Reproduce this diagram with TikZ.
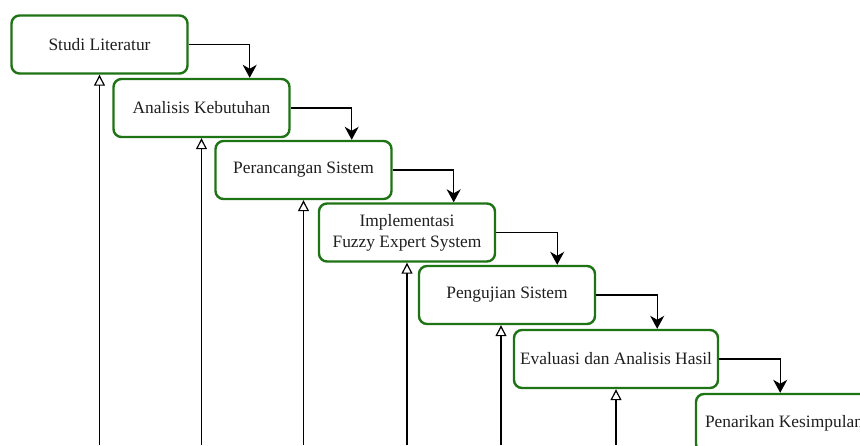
\documentclass[tikz,border=0pt]{standalone}
\usepackage{fontspec}
\setmainfont{Liberation Serif}
\usetikzlibrary{arrows.meta}
\definecolor{boxgreen}{RGB}{30,115,20}

\begin{document}
\begin{tikzpicture}[
  x=1pt, y=-1pt,
  box/.style={draw=boxgreen, line width=2.4pt, rounded corners=8pt, fill=white, align=center, minimum width=176pt, minimum height=58pt, inner sep=4pt, text=black!88, font=\fontsize{17.4}{21}\selectfont},
  ar/.style={-{Stealth[length=13pt, width=14pt, inset=4pt]}, line width=1.2pt},
  fb/.style={-{Triangle[open, length=11pt, width=11pt]}, line width=1.2pt}
]
\useasboundingbox (0,0) rectangle (860,445);
\clip (0,0) rectangle (860,445);
\node[box] (s1) at (99.5,44.5) {Studi Literatur};
\node[box] (s2) at (201.5,108) {Analisis Kebutuhan};
\node[box] (s3) at (303.5,170) {Perancangan Sistem};
\node[box] (s4) at (407,232.5) {Implementasi\\Fuzzy Expert System};
\node[box] (s5) at (507,295) {Pengujian Sistem};
\node[box, minimum width=204pt] (s6) at (616,359) {Evaluasi dan Analisis Hasil};
\node[box] (s7) at (784,423) {Penarikan Kesimpulan};
\coordinate (base) at (0,445);
\coordinate (s5b) at ([xshift=-6pt]s5.south);
\draw[ar] (s1.east) -- ++(61,0) coordinate (t1) -- (t1 |- s2.north);
\draw[ar] (s2.east) -- ++(61,0) coordinate (t2) -- (t2 |- s3.north);
\draw[ar] (s3.east) -- ++(61,0) coordinate (t3) -- (t3 |- s4.north);
\draw[ar] (s4.east) -- ++(61,0) coordinate (t4) -- (t4 |- s5.north);
\draw[ar] (s5.east) -- ++(61,0) coordinate (t5) -- (t5 |- s6.north);
\draw[ar] (s6.east) -- ++(61,0) coordinate (t6) -- (t6 |- s7.north);
\draw[fb] (s1.south |- base) -- (s1.south);
\draw[fb] (s2.south |- base) -- (s2.south);
\draw[fb] (s3.south |- base) -- (s3.south);
\draw[fb] (s4.south |- base) -- (s4.south);
\draw[fb] (s5b |- base) -- (s5b);
\draw[fb] (s6.south |- base) -- (s6.south);
\end{tikzpicture}
\end{document}
